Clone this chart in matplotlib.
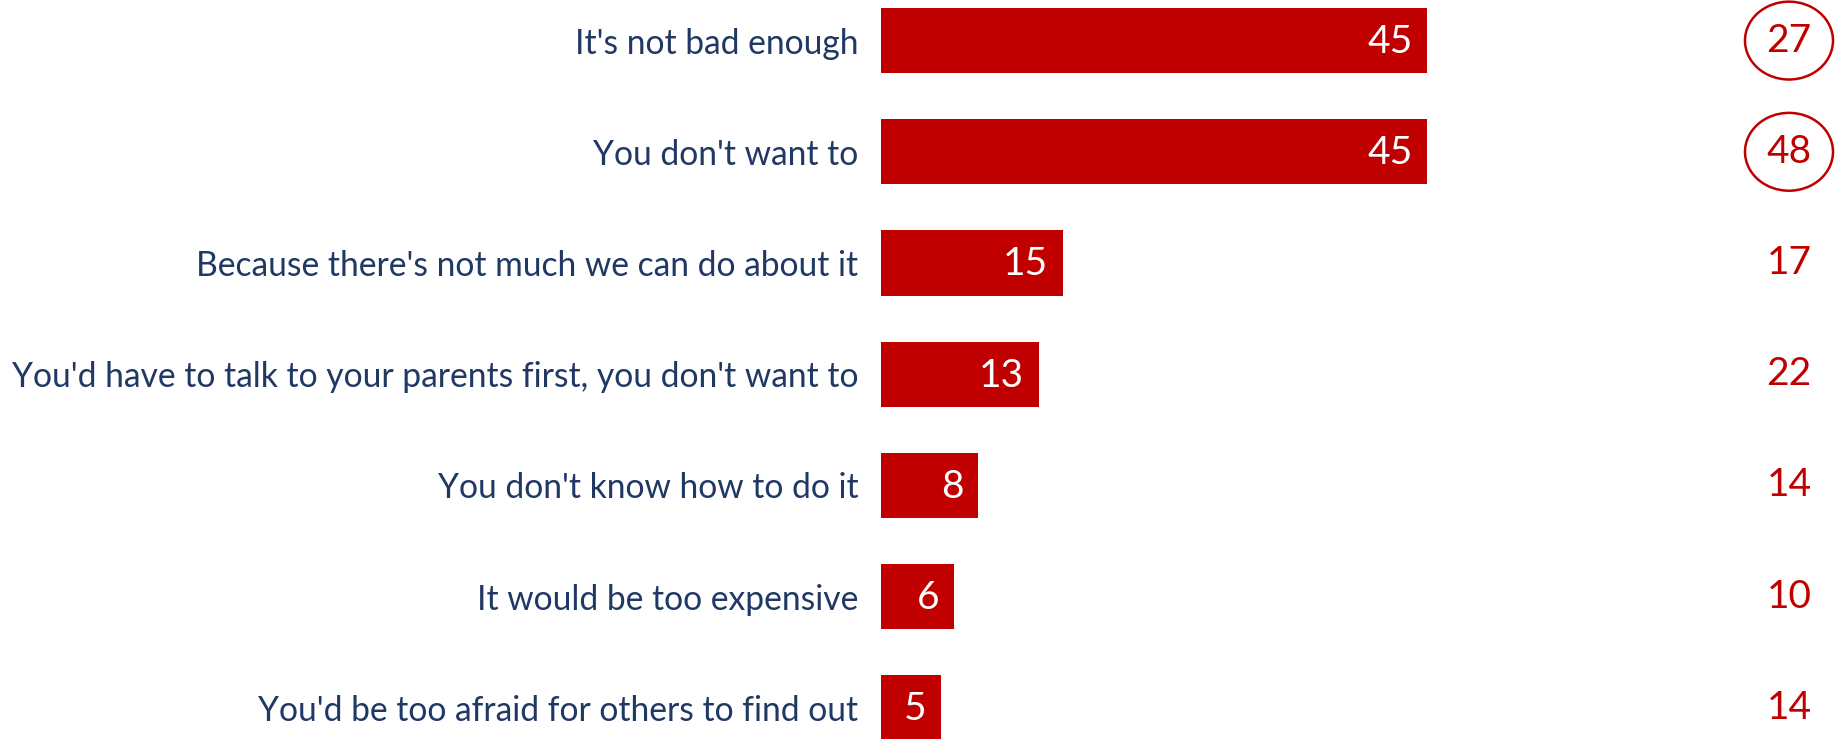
import matplotlib.pyplot as plt
from matplotlib.patches import Ellipse
from matplotlib.transforms import blended_transform_factory

# Reasons (top to bottom) and their values
reasons = [
    "It's not bad enough",
    "You don't want to",
    "Because there's not much we can do about it",
    "You'd have to talk to your parents first, you don't want to",
    "You don't know how to do it",
    "It would be too expensive",
    "You'd be too afraid for others to find out",
]
values = [45, 45, 15, 13, 8, 6, 5]
# comparison column on the right
compare_values = [27, 48, 17, 22, 14, 10, 14]
circled = [True, True, False, False, False, False, False]

RED = '#C00000'
NAVY = '#1F3864'
plt.rcParams['font.family'] = ['Lato', 'DejaVu Sans']

fig = plt.figure(figsize=(18.37, 7.39), dpi=100)
ax = fig.add_axes([880.7 / 1837, 0, 1 - 880.7 / 1837, 1])

y = list(range(len(reasons)))
ax.barh(y, values, height=0.585, color=RED)
ax.set_xlim(0, (1837 - 880.7) / 12.15)
ax.set_ylim(6.28, -0.365)

# category labels as y tick labels
ax.set_yticks(y)
ax.set_yticklabels(reasons, fontsize=24.2, color=NAVY)
ax.tick_params(axis='y', length=0, pad=16)
ax.set_xticks([])
for s in ax.spines.values():
    s.set_visible(False)

# values inside the bars
for yi, v in zip(y, values):
    ax.annotate(str(v), (v, yi), xytext=(-10.5, -1), textcoords='offset points',
                ha='right', va='center', color='white', fontsize=28)

# right-hand column, some circled
trans = blended_transform_factory(fig.transFigure, ax.transData)
xc = 1789 / 1837
for yi, c, circ in zip(y, compare_values, circled):
    ax.text(xc, yi, str(c), transform=trans, ha='center', va='center',
            color=RED, fontsize=28)
    if circ:
        ax.add_patch(Ellipse((xc, yi), 88 / 1837, 0.70, transform=trans,
                             fill=False, edgecolor=RED, lw=1.8, clip_on=False))

fig.savefig('out.png', dpi=100)
